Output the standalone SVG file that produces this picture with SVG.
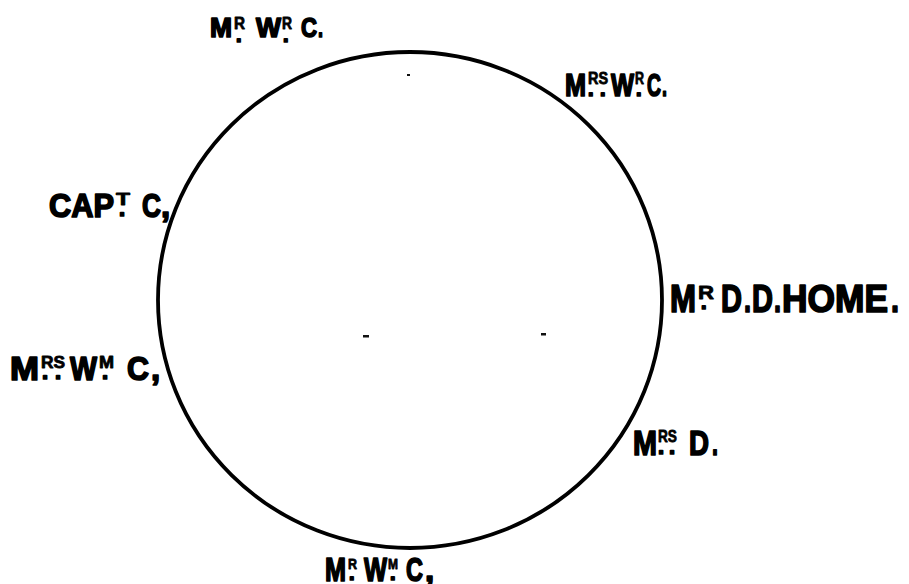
<svg xmlns="http://www.w3.org/2000/svg" width="909" height="584" viewBox="0 0 909 584">
<style>
text{font-family:"Liberation Sans Narrow","Liberation Sans",Arial,sans-serif;font-weight:bold;fill:#000;stroke:#000;stroke-width:1.7;stroke-linejoin:round}
text.s{stroke-width:0.8}
.ring{fill:none;stroke:#000;stroke-width:3.8}
.speck{fill:#111}
</style>
<rect width="909" height="584" fill="#fff"/>
<g id="circle">
<ellipse class="ring" cx="410" cy="300" rx="252" ry="248"/>
<rect class="speck" x="407" y="74" width="3" height="2"/>
<rect class="speck" x="363" y="335" width="6" height="2.5"/>
<rect class="speck" x="541" y="333" width="5" height="2.5"/>
</g>
<g id="label-mr-wr-c-top">
<text x="210" y="37" font-size="28" textLength="22" lengthAdjust="spacingAndGlyphs">M</text>
<text class="s" x="234" y="29" font-size="16" textLength="11" lengthAdjust="spacingAndGlyphs">R</text>
<text x="236" y="42" font-size="20">.</text>
<text x="256" y="37" font-size="28" textLength="25" lengthAdjust="spacingAndGlyphs">W</text>
<text class="s" x="282" y="29" font-size="16" textLength="10" lengthAdjust="spacingAndGlyphs">R</text>
<text x="283" y="42" font-size="20">.</text>
<text x="301" y="37" font-size="28" textLength="16" lengthAdjust="spacingAndGlyphs">C</text>
<text x="318" y="37" font-size="28" textLength="5" lengthAdjust="spacingAndGlyphs">.</text>
</g>
<g id="label-mrs-wr-c">
<text x="565" y="96" font-size="31" textLength="21" lengthAdjust="spacingAndGlyphs">M</text>
<text class="s" x="588" y="84" font-size="16" textLength="20" lengthAdjust="spacingAndGlyphs">RS</text>
<text x="588" y="96" font-size="20">.</text>
<text x="600" y="96" font-size="20">.</text>
<text x="611" y="96" font-size="31" textLength="23" lengthAdjust="spacingAndGlyphs">W</text>
<text class="s" x="635" y="84" font-size="16" textLength="9" lengthAdjust="spacingAndGlyphs">R</text>
<text x="636" y="96" font-size="20">.</text>
<text x="647" y="96" font-size="31" textLength="14" lengthAdjust="spacingAndGlyphs">C</text>
<text x="662" y="96" font-size="31" textLength="5" lengthAdjust="spacingAndGlyphs">.</text>
</g>
<g id="label-capt-c">
<text x="49" y="217" font-size="33" textLength="65" lengthAdjust="spacingAndGlyphs">CAP</text>
<text class="s" x="116" y="205" font-size="16" textLength="14" lengthAdjust="spacingAndGlyphs">T</text>
<text x="119" y="216" font-size="22">.</text>
<text x="142" y="217" font-size="33" textLength="19" lengthAdjust="spacingAndGlyphs">C</text>
<text x="161" y="217" font-size="33">,</text>
</g>
<g id="label-mr-dd-home">
<text x="670" y="312" font-size="38" textLength="26" lengthAdjust="spacingAndGlyphs">M</text>
<text class="s" x="698" y="299" font-size="19" textLength="16" lengthAdjust="spacingAndGlyphs">R</text>
<text x="701" y="309" font-size="20">.</text>
<text x="721" y="312" font-size="38" textLength="21" lengthAdjust="spacingAndGlyphs">D</text>
<text x="744" y="312" font-size="38" textLength="7" lengthAdjust="spacingAndGlyphs">.</text>
<text x="752" y="312" font-size="38" textLength="21" lengthAdjust="spacingAndGlyphs">D</text>
<text x="774" y="312" font-size="38" textLength="7" lengthAdjust="spacingAndGlyphs">.</text>
<text x="782" y="312" font-size="38" textLength="106" lengthAdjust="spacingAndGlyphs">HOME</text>
<text x="891" y="312" font-size="38" textLength="8" lengthAdjust="spacingAndGlyphs">.</text>
</g>
<g id="label-mrs-wm-c">
<text x="10" y="380" font-size="33" textLength="29" lengthAdjust="spacingAndGlyphs">M</text>
<text class="s" x="41" y="368" font-size="16" textLength="24" lengthAdjust="spacingAndGlyphs">RS</text>
<text x="42" y="379" font-size="22">.</text>
<text x="55" y="379" font-size="22">.</text>
<text x="70" y="380" font-size="33" textLength="27" lengthAdjust="spacingAndGlyphs">W</text>
<text class="s" x="99" y="368" font-size="16" textLength="15" lengthAdjust="spacingAndGlyphs">M</text>
<text x="102" y="379" font-size="22">.</text>
<text x="127" y="380" font-size="33" textLength="22" lengthAdjust="spacingAndGlyphs">C</text>
<text x="151" y="380" font-size="33">,</text>
</g>
<g id="label-mrs-d">
<text x="633" y="455" font-size="35" textLength="24" lengthAdjust="spacingAndGlyphs">M</text>
<text class="s" x="658" y="442" font-size="17" textLength="19" lengthAdjust="spacingAndGlyphs">RS</text>
<text x="658" y="454" font-size="22">.</text>
<text x="669" y="454" font-size="22">.</text>
<text x="689" y="455" font-size="35" textLength="20" lengthAdjust="spacingAndGlyphs">D</text>
<text x="712" y="455" font-size="35" textLength="6" lengthAdjust="spacingAndGlyphs">.</text>
</g>
<g id="label-mr-wm-c-bottom">
<text x="325" y="581" font-size="33" textLength="21" lengthAdjust="spacingAndGlyphs">M</text>
<text class="s" x="348" y="569" font-size="15" textLength="9" lengthAdjust="spacingAndGlyphs">R</text>
<text x="349" y="580" font-size="20">.</text>
<text x="364" y="581" font-size="33" textLength="23" lengthAdjust="spacingAndGlyphs">W</text>
<text class="s" x="388" y="569" font-size="15" textLength="10" lengthAdjust="spacingAndGlyphs">M</text>
<text x="390" y="580" font-size="20">.</text>
<text x="406" y="581" font-size="33" textLength="17" lengthAdjust="spacingAndGlyphs">C</text>
<text x="425" y="581" font-size="33">,</text>
</g>
</svg>
